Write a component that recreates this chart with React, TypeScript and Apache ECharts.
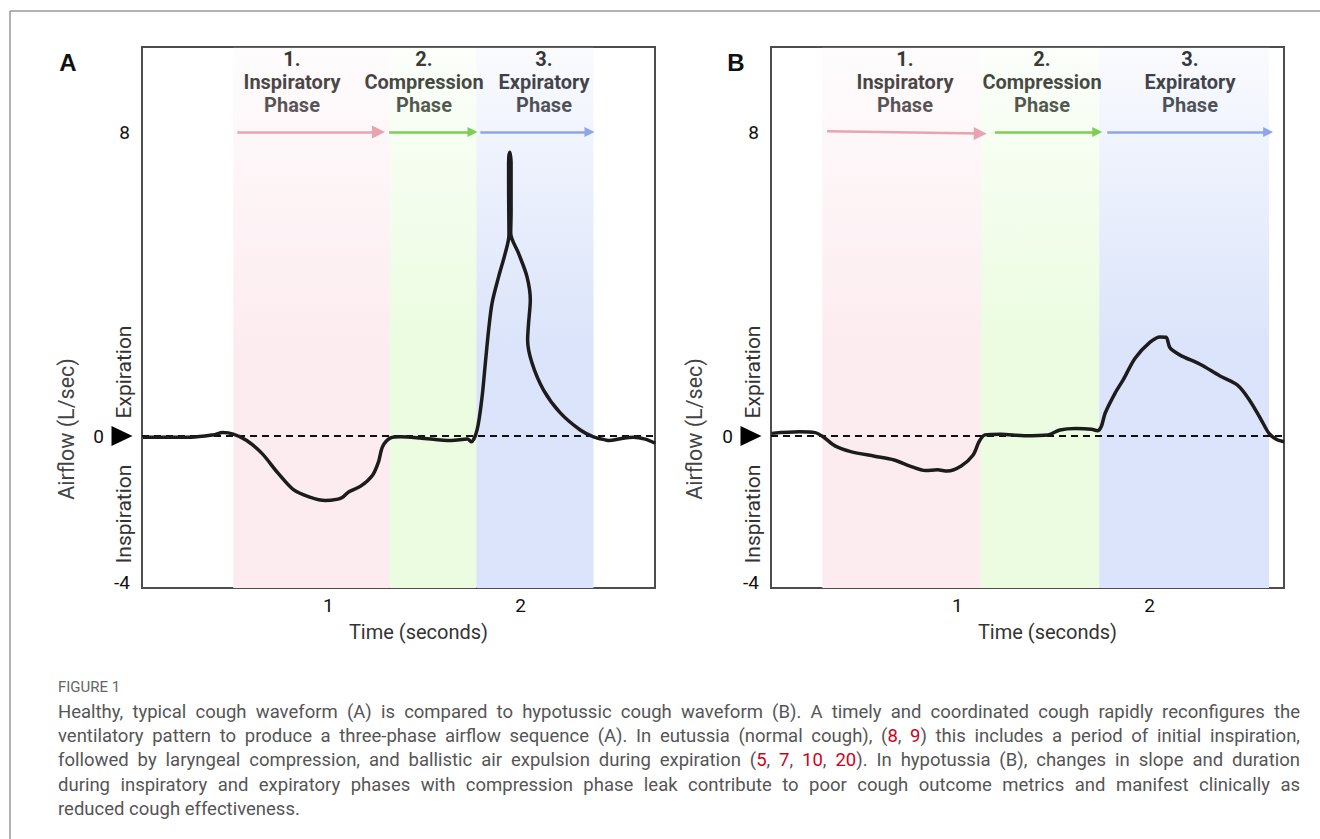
import React, { useEffect, useRef } from "react";
import * as echarts from "echarts";

// ---------- data ----------
const X_MIN = 0.03;
const X_MAX = 2.7;
const Y_MIN = -4;
const Y_MAX = 10.24;
const xTickValues = [1, 2];
const yTickValues = [-4, 0, 8];

const phaseTitles = ["1.\nInspiratory\nPhase", "2.\nCompression\nPhase", "3.\nExpiratory\nPhase"];
const panelLetters = ["A", "B"];
const yAxisName = "Airflow (L/sec)";
const xAxisName = "Time (seconds)";
const upperLabel = "Expiration";
const lowerLabel = "Inspiration";

// phase bands (seconds)
const bandsA = [[0.505, 1.32], [1.32, 1.77], [1.77, 2.38]];
const bandsB = [[0.297, 1.123], [1.123, 1.738], [1.738, 2.622]];

// phase arrows [[t0, v0], [t1, v1]]
const arrowsA = [
  [[0.526, 8], [1.261, 8]],
  [[1.316, 8], [1.75, 8]],
  [[1.791, 8], [2.359, 8]],
];
const arrowsB = [
  [[0.322, 8.02], [1.119, 7.96]],
  [[1.195, 8], [1.728, 8]],
  [[1.78, 8], [2.617, 8]],
];

// airflow traces [seconds, L/sec]
const flowA = [
  [0.035, -0.03], [0.285, -0.03], [0.4, 0.03], [0.451, 0.09], [0.505, 0.05], [0.573, -0.11],
  [0.653, -0.45], [0.737, -0.97], [0.82, -1.42], [0.903, -1.61], [0.984, -1.7], [1.05, -1.66],
  [1.074, -1.61], [1.105, -1.47], [1.168, -1.32], [1.23, -1.03], [1.261, -0.68], [1.282, -0.28],
  [1.324, -0.05], [1.376, -0.02], [1.476, -0.05], [1.641, -0.12], [1.724, -0.08], [1.744, -0.15],
  [1.774, 0.16], [1.8, 1.03], [1.817, 1.92], [1.834, 2.79], [1.852, 3.5], [1.886, 4.19],
  [1.921, 4.82], [1.94, 5.29], [1.939, 5.87], [1.938, 6.74], [1.938, 7.2], [1.944, 7.47],
  [1.951, 7.2], [1.951, 6.74], [1.951, 5.87], [1.949, 5.34], [1.99, 4.81], [2.034, 4.19],
  [2.051, 3.58], [2.042, 2.97], [2.037, 2.53], [2.06, 1.92], [2.12, 1.21], [2.207, 0.61],
  [2.311, 0.16], [2.38, -0.02], [2.449, -0.11], [2.461, -0.12], [2.52, -0.07], [2.586, -0.03],
  [2.649, -0.08], [2.701, -0.19],
];
const flowB = [
  [0.033, 0.07], [0.178, 0.11], [0.26, 0.09], [0.301, -0.02], [0.363, -0.26], [0.445, -0.41],
  [0.569, -0.53], [0.671, -0.63], [0.753, -0.79], [0.835, -0.91], [0.896, -0.89], [0.948, -0.92],
  [1.02, -0.79], [1.082, -0.5], [1.113, -0.15], [1.143, 0.03], [1.226, 0.05], [1.348, 0.01],
  [1.472, 0.03], [1.534, 0.16], [1.616, 0.2], [1.698, 0.18], [1.729, 0.14], [1.749, 0.25],
  [1.769, 0.6], [1.821, 1.13], [1.862, 1.47], [1.925, 2.05], [2.003, 2.47], [2.055, 2.61],
  [2.086, 2.6], [2.107, 2.32], [2.159, 2.13], [2.263, 1.89], [2.367, 1.58], [2.458, 1.34],
  [2.52, 0.95], [2.582, 0.42], [2.622, 0.07], [2.664, -0.1], [2.7, -0.15],
];

const captionTitle = "FIGURE 1";
const captionLines = [
  "Healthy, typical cough waveform (A) is compared to hypotussic cough waveform (B). A timely and coordinated cough rapidly reconfigures the",
  "ventilatory pattern to produce a three-phase airflow sequence (A). In eutussia (normal cough), ({r|8}, {r|9}) this includes a period of initial inspiration,",
  "followed by laryngeal compression, and ballistic air expulsion during expiration ({r|5}, {r|7}, {r|10}, {r|20}). In hypotussia (B), changes in slope and duration",
  "during inspiratory and expiratory phases with compression phase leak contribute to poor cough outcome metrics and manifest clinically as",
  "reduced cough effectiveness.",
];

// ---------- styles ----------
const FONT = "Roboto, 'Liberation Sans', sans-serif";
const TICK_FS = 19;
const bandRGB = ["252,236,240", "235,252,224", "219,228,250"];
const arrowColors = ["#e8a3b0", "#7ccf55", "#8ea5ea"];
const arrowHead = [13, 10, 10];

const grad = (rgb: string) => ({
  type: "linear", x: 0, y: 0, x2: 0, y2: 1,
  colorStops: [
    { offset: 0, color: `rgba(${rgb},0.15)` },
    { offset: 0.55, color: `rgba(${rgb},1)` },
    { offset: 1, color: `rgba(${rgb},1)` },
  ],
});

function panelSeries(idx: number, flow: number[][], bands: number[][], arrows: number[][][]) {
  return {
    type: "line",
    xAxisIndex: idx,
    yAxisIndex: idx,
    data: flow,
    showSymbol: false,
    symbol: "none",
    smooth: 0.3,
    z: 5,
    lineStyle: { color: "#1c1c1c", width: 3.5 },
    markArea: {
      silent: true,
      z: 1,
      data: bands.map((b, i) => [
        { xAxis: b[0], itemStyle: { color: grad(bandRGB[i]) } },
        { xAxis: b[1] },
      ]),
    },
    markLine: {
      silent: true,
      symbol: "none",
      label: { show: false },
      data: [
        { yAxis: 0, lineStyle: { type: [7, 5], width: 2, color: "#111" } },
        ...arrows.map((a, i) => [
          { coord: a[0], symbol: "none", lineStyle: { color: arrowColors[i], width: 2.5, type: "solid" } },
          { coord: a[1], symbol: "triangle", symbolSize: arrowHead[i] },
        ]),
      ],
    },
    markPoint: {
      silent: true,
      label: { show: false },
      data: [
        {
          coord: [X_MIN, 0],
          symbol: "triangle",
          symbolSize: [20, 21],
          symbolRotate: -90,
          symbolOffset: [-20, 0],
          itemStyle: { color: "#000" },
        },
      ],
    },
  };
}

function axisPair(idx: number) {
  const x = {
    type: "value",
    gridIndex: idx,
    min: X_MIN,
    max: X_MAX,
    axisLine: { show: false },
    axisTick: { show: false },
    splitLine: { show: false },
    axisLabel: {
      customValues: xTickValues,
      margin: 8,
      fontSize: TICK_FS,
      color: "#111",
      fontFamily: FONT,
    },
    name: xAxisName,
    nameLocation: "middle",
    nameGap: 34,
    nameTextStyle: { fontSize: 20, color: "#333", fontFamily: FONT, padding: [0, 0, 0, 40] },
  };
  const y = {
    type: "value",
    gridIndex: idx,
    min: Y_MIN,
    max: Y_MAX,
    axisLine: { show: false },
    axisTick: { show: false },
    splitLine: { show: false },
    axisLabel: {
      customValues: yTickValues,
      margin: 12,
      fontSize: TICK_FS,
      color: "#111",
      fontFamily: FONT,
      formatter: (v: number) => (v === 0 ? "{z|0}" : v === -4 ? "{m|-4}" : "{n|" + v + "}"),
      rich: {
        z: { padding: [0, 26, 0, 0], fontSize: TICK_FS, color: "#111", fontFamily: FONT },
        m: { padding: [0, 0, 12, 0], fontSize: TICK_FS, color: "#111", fontFamily: FONT },
        n: { fontSize: TICK_FS, color: "#111", fontFamily: FONT },
      },
    },
  };
  return { x, y };
}

function buildCaption(): any[] {
  const out: any[] = [];
  const left = 58;
  const width = 1242;
  const top = 712;
  const lh = 24.2;
  const fs = 18.5;
  const font = `${fs}px Roboto`;
  const canvas = document.createElement("canvas");
  const ctx = canvas.getContext("2d") as CanvasRenderingContext2D;
  ctx.font = font;
  const spaceW = ctx.measureText(" ").width;
  out.push({
    type: "text",
    x: left,
    y: 687,
    style: { text: captionTitle, fill: "#666", fontSize: 15, fontFamily: FONT, verticalAlign: "middle" },
  });
  captionLines.forEach((line, li) => {
    const words = line.split(" ");
    const widths = words.map((w) => ctx.measureText(w.replace(/\{r\|([^}]*)\}/g, "$1")).width);
    const total = widths.reduce((a, b) => a + b, 0);
    const justify = li < captionLines.length - 1;
    const gap = justify ? Math.max(2, (width - total) / (words.length - 1)) : spaceW;
    let cx = left;
    words.forEach((w, wi) => {
      out.push({
        type: "text",
        x: cx,
        y: top + li * lh,
        style: {
          text: w,
          fill: "#555",
          fontSize: fs,
          fontFamily: FONT,
          verticalAlign: "middle",
          rich: { r: { fill: "#d0021b", fontSize: fs, fontFamily: FONT } },
        },
      });
      cx += widths[wi] + gap;
    });
  });
  return out;
}

export default function App() {
  const ref = useRef<HTMLDivElement>(null);
  useEffect(() => {
    if (!ref.current) return;
    const chart = echarts.init(ref.current, undefined, { renderer: "svg" });
    const a = axisPair(0);
    const b = axisPair(1);

    const titleXA = [292, 424, 544];
    const titleXB = [905, 1042, 1190];
    const panelOffsets = [0, 628.5];

    const graphics: any[] = [
      { type: "line", shape: { x1: 10, y1: 11, x2: 1320, y2: 11 }, style: { stroke: "#999", lineWidth: 1.5 } },
      { type: "line", shape: { x1: 10, y1: 11, x2: 10, y2: 839 }, style: { stroke: "#999", lineWidth: 1.5 } },
    ];
    panelLetters.forEach((L, i) => {
      graphics.push({
        type: "text",
        x: i === 0 ? 68 : 736,
        y: 62,
        style: { text: L, fill: "#111", fontSize: 24, fontWeight: "bold", fontFamily: "'Liberation Sans', Arial, sans-serif", align: "center", verticalAlign: "middle" },
      });
    });
    [titleXA, titleXB].forEach((xs) =>
      xs.forEach((tx, i) =>
        graphics.push({
          type: "text",
          x: tx,
          y: 47,
          style: {
            text: phaseTitles[i],
            fill: "#0d0d0d",
            fontSize: 20,
            fontWeight: "bold",
            fontFamily: FONT,
            lineHeight: 23,
            align: "center",
            verticalAlign: "top",
          },
        })
      )
    );
    panelOffsets.forEach((off) => {
      graphics.push(
        {
          type: "text", x: 66 + off, y: 429, rotation: Math.PI / 2,
          style: { text: yAxisName, fill: "#444", fontSize: 21.5, fontFamily: FONT, align: "center", verticalAlign: "middle" },
        },
        {
          type: "text", x: 124 + off, y: 372, rotation: Math.PI / 2,
          style: { text: upperLabel, fill: "#333", fontSize: 21, fontFamily: FONT, align: "center", verticalAlign: "middle" },
        },
        {
          type: "text", x: 124 + off, y: 514, rotation: Math.PI / 2,
          style: { text: lowerLabel, fill: "#333", fontSize: 21, fontFamily: FONT, align: "center", verticalAlign: "middle" },
        }
      );
    });
    graphics.push(...buildCaption());

    chart.setOption({
      animation: false,
      backgroundColor: "#fff",
      grid: [
        { left: 142, right: 665, top: 47, bottom: 251, show: true, borderColor: "#4d4d4d", borderWidth: 2, backgroundColor: "transparent" },
        { left: 771, right: 36, top: 47, bottom: 251, show: true, borderColor: "#4d4d4d", borderWidth: 2, backgroundColor: "transparent" },
      ],
      xAxis: [a.x, b.x],
      yAxis: [a.y, b.y],
      series: [panelSeries(0, flowA, bandsA, arrowsA), panelSeries(1, flowB, bandsB, arrowsB)],
      graphic: graphics,
    });
    return () => chart.dispose();
  }, []);
  return (
    <div
      ref={ref}
      style={{ position: "absolute", left: 0, top: 0, width: 1320, height: 839, background: "#fff" }}
    />
  );
}
